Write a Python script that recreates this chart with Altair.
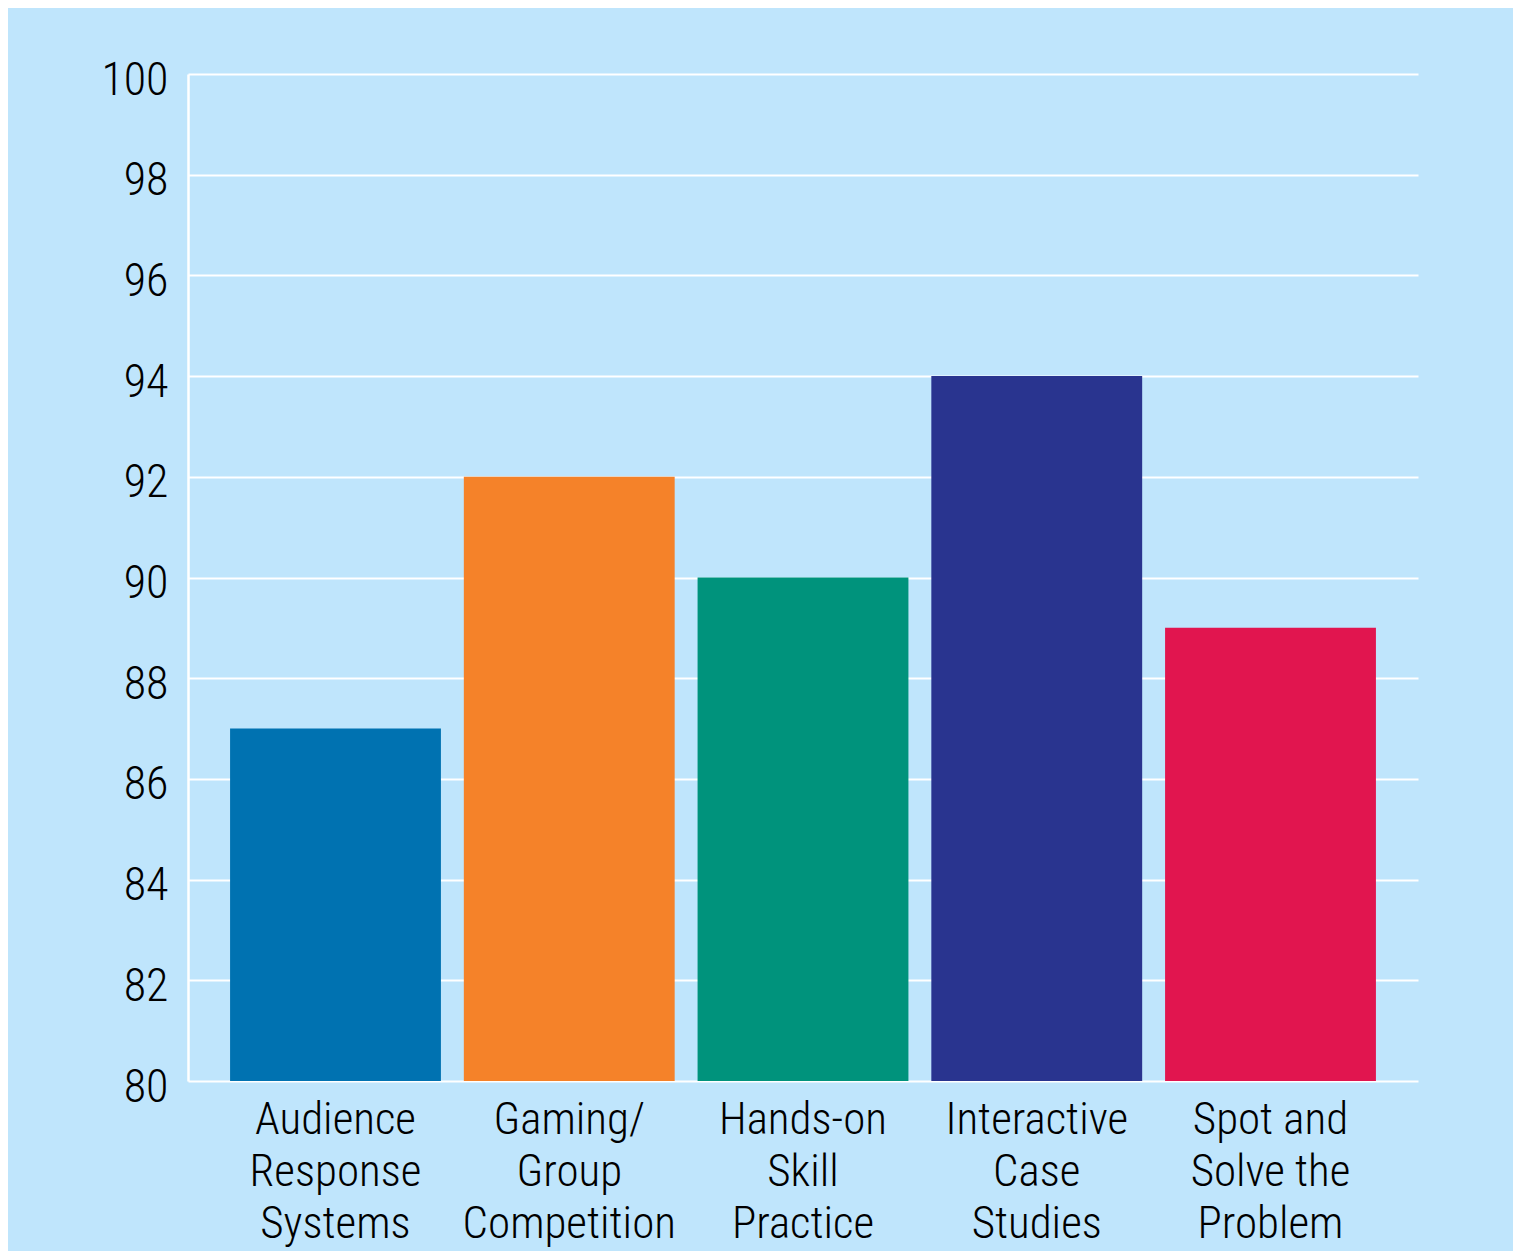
import altair as alt
import pandas as pd

categories = ["Audience|Response|Systems", "Gaming/|Group|Competition", "Hands-on|Skill|Practice",
              "Interactive|Case|Studies", "Spot and|Solve the|Problem"]
values = [87, 92, 90, 94, 89]
colors = ["#0072b1", "#f58229", "#00937c", "#29348f", "#e1154f"]
y_ticks = list(range(80, 101, 2))

df = pd.DataFrame({"cat": categories, "val": values, "color": colors})

FONT = "Roboto Condensed, sans-serif"

chart = alt.Chart(df).mark_bar().encode(
    x=alt.X("cat:N", sort=categories,
            scale=alt.Scale(paddingInner=0.098, paddingOuter=0.18),
            axis=alt.Axis(title=None, labelAngle=0, ticks=False, domain=False,
                          labelExpr="split(datum.label, '|')", labelLimit=0,
                          labelFont=FONT, labelFontSize=45, labelFontWeight=300,
                          labelLineHeight=52,
                          labelColor="#000000", labelPadding=16, labelBaseline="top")),
    y=alt.Y("val:Q", scale=alt.Scale(domain=[80, 100], nice=False, zero=False),
            axis=alt.Axis(title=None, values=y_ticks, ticks=False, domain=True,
                          domainColor="#ffffff", domainWidth=2.5,
                          grid=True, gridColor="#ffffff", gridWidth=2, gridOpacity=1,
                          labelFont=FONT, labelFontSize=46, labelFontWeight=300,
                          labelColor="#000000", labelOffset=6,
                          labelPadding=20, labelLimit=0)),
    y2=alt.datum(80),
    color=alt.Color("color:N", scale=None),
).properties(
    width=1230, height=1007,
    background="#bfe5fc",
    padding={"left": 180, "top": 66, "right": 95, "bottom": 170},
    autosize=alt.AutoSizeParams(type="none"),
).configure_view(stroke=None)

chart.save("out.html", embed_options={"renderer": "svg", "actions": False})
